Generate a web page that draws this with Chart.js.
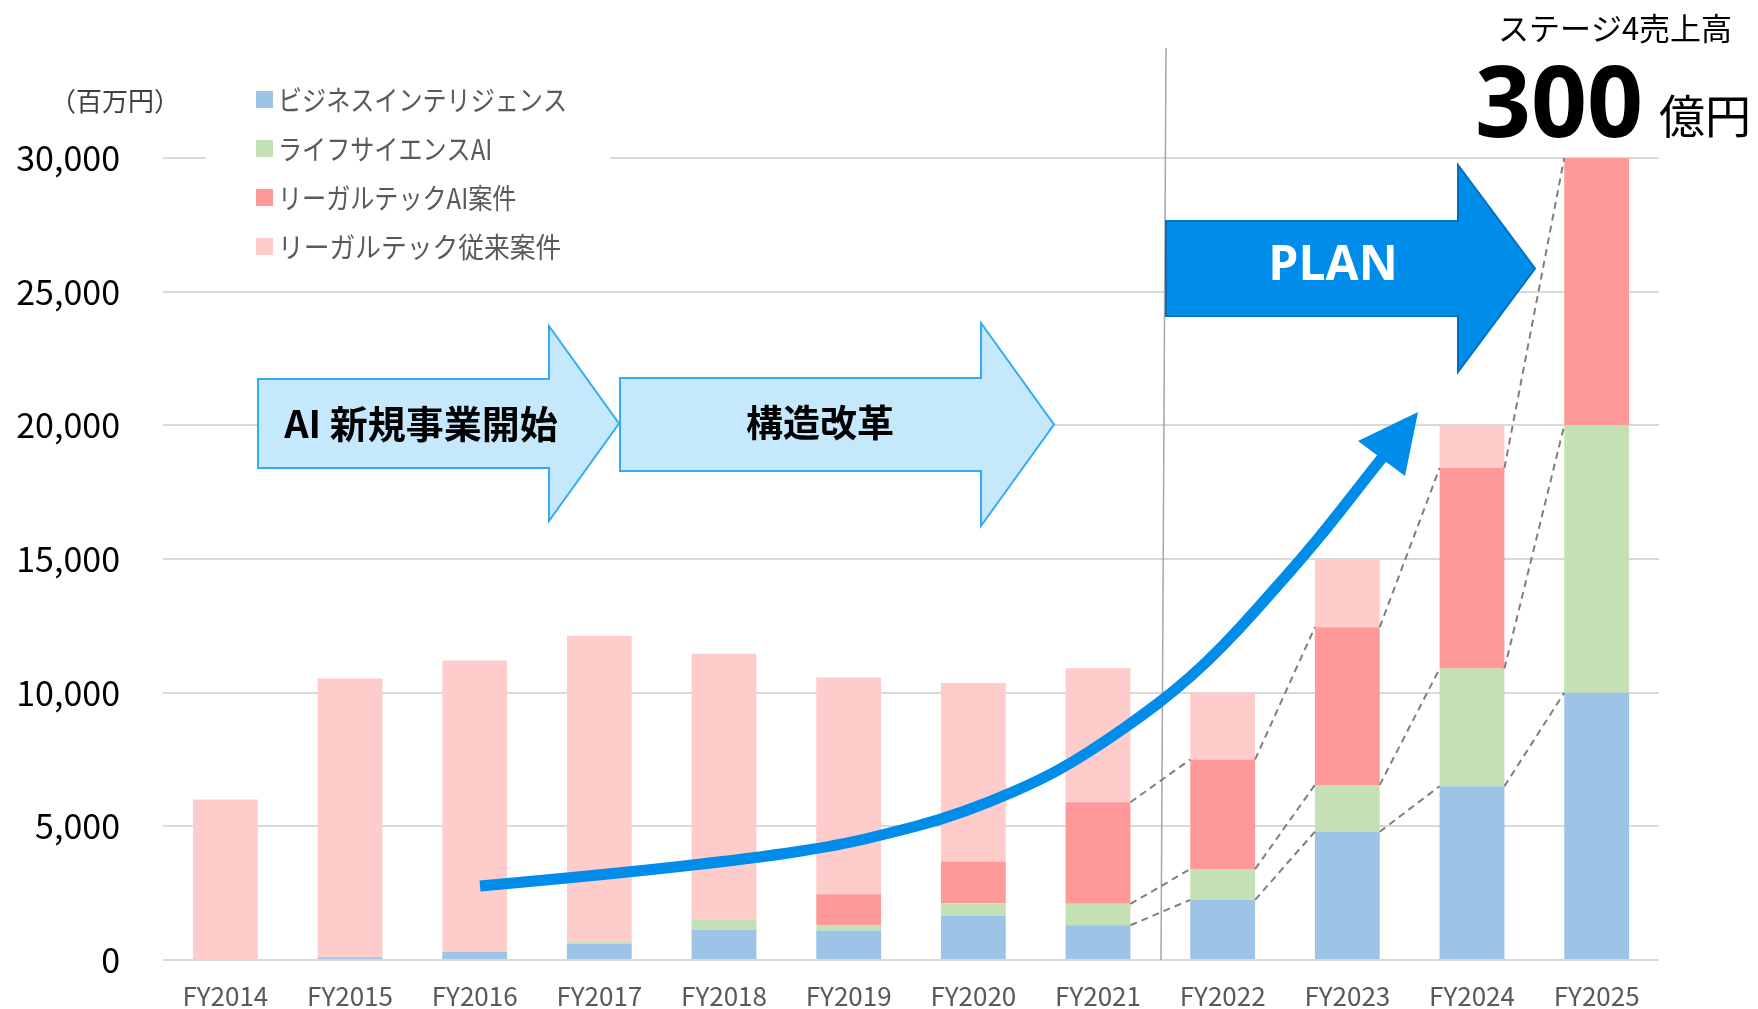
<!DOCTYPE html>
<html lang="ja">
<head>
<meta charset="utf-8">
<script src="https://cdn.jsdelivr.net/npm/chart.js@4"></script>
<style>
html, body { margin: 0; padding: 0; background: #fff; }
canvas { display: block; }
</style>
</head>
<body>
<canvas id="chart" width="1758" height="1009"></canvas>
<script>
const categories = ['FY2014','FY2015','FY2016','FY2017','FY2018','FY2019','FY2020','FY2021','FY2022','FY2023','FY2024','FY2025'];
const seriesNames = ['ビジネスインテリジェンス','ライフサイエンスAI','リーガルテックAI案件','リーガルテック従来案件'];
const biValues          = [0, 100, 300, 600, 1130, 1100, 1650, 1300, 2250, 4800, 6500, 10000];
const lifeScienceValues = [0, 0, 0, 70, 380, 190, 470, 800, 1150, 1750, 4400, 10000];
const legalAiValues     = [0, 0, 0, 0, 0, 1170, 1560, 3800, 4100, 5900, 7500, 10000];
const legalLegacyValues = [6000, 10430, 10900, 11460, 9950, 8110, 6680, 5010, 2500, 2550, 1600, 0];
const seriesColors = ['#9dc3e6','#c5e0b4','#ff9999','#ffcccc'];
const yMax = 30000, yStep = 5000;
const seriesLineFrom = 7;   // dashed "series lines" start at FY2021
const unitLabel = '（百万円）';
const titleLabel = 'ステージ4売上高';
const bigNumber = '300', bigUnit = '億円';
const phaseLabels = ['AI 新規事業開始', '構造改革', 'PLAN'];

const jp = '"Noto Sans CJK JP", "Noto Sans", sans-serif';

// hand-traced path of the decorative growth arrow (canvas px)
const growthPath = [[480,886],[603,875],[756,858],[840,845],[890,833],[940,820],[990,802],
                    [1040,780],[1073,762],[1107,740],[1140,717],[1173,692],[1207,662],[1240,628],
                    [1272,592],[1302,558],[1331,523],[1370,473],[1382,458]];

// the original uses a narrow UI font; squeeze the text a bit
function narrowText(ctx, text, x, y, squeeze) {
  ctx.fillText(text, x, y, ctx.measureText(text).width * squeeze);
}

function blockArrow(ctx, a, fill, stroke) {
  const midY = (a.headTop + a.headBottom) / 2;
  ctx.beginPath();
  ctx.moveTo(a.left, a.top);
  ctx.lineTo(a.headX, a.top);
  ctx.lineTo(a.headX, a.headTop);
  ctx.lineTo(a.tipX, midY);
  ctx.lineTo(a.headX, a.headBottom);
  ctx.lineTo(a.headX, a.bottom);
  ctx.lineTo(a.left, a.bottom);
  ctx.closePath();
  ctx.fillStyle = fill;
  ctx.fill();
  ctx.lineWidth = 2;
  ctx.strokeStyle = stroke;
  ctx.stroke();
}

const dividerPlugin = {
  id: 'divider',
  beforeDatasetsDraw(chart) {
    const ctx = chart.ctx;
    ctx.save();
    ctx.strokeStyle = '#a6a6a6';
    ctx.lineWidth = 1.5;
    ctx.beginPath();
    ctx.moveTo(1166, 48);
    ctx.lineTo(1161, chart.chartArea.bottom);
    ctx.stroke();
    ctx.restore();
  }
};

const seriesLinesPlugin = {
  id: 'seriesLines',
  afterDatasetsDraw(chart) {
    const ctx = chart.ctx;
    ctx.save();
    ctx.strokeStyle = '#7f7f7f';
    ctx.lineWidth = 2;
    ctx.setLineDash([7, 5]);
    for (let k = 0; k < 3; k++) {
      const bars = chart.getDatasetMeta(k).data;
      for (let i = seriesLineFrom; i < bars.length - 1; i++) {
        const a = bars[i], b = bars[i + 1];
        ctx.beginPath();
        ctx.moveTo(a.x + a.width / 2, a.y);
        ctx.lineTo(b.x - b.width / 2, b.y);
        ctx.stroke();
      }
    }
    ctx.restore();
  }
};

const decorPlugin = {
  id: 'decor',
  afterDraw(chart) {
    const ctx = chart.ctx;
    ctx.save();

    // legend box (white, hides the top gridline behind it)
    ctx.fillStyle = '#fff';
    ctx.fillRect(206, 72, 404, 195);
    ctx.textBaseline = 'middle';
    ctx.textAlign = 'left';
    ctx.font = '28px ' + jp;
    chart.data.datasets.forEach((ds, i) => {
      const y = 99 + i * 49;
      ctx.fillStyle = ds.backgroundColor;
      ctx.fillRect(256, y - 8, 17, 17);
      ctx.fillStyle = '#595959';
      narrowText(ctx, ds.label, 278, y + 1, i === 3 ? 0.92 : 0.86);
    });

    ctx.fillStyle = '#404040';
    ctx.font = '26px ' + jp;
    ctx.fillText(unitLabel, 50, 101);

    // headline
    ctx.fillStyle = '#000';
    ctx.textAlign = 'center';
    ctx.font = '31px ' + jp;
    ctx.fillText(titleLabel, 1615, 28);
    ctx.textBaseline = 'alphabetic';
    ctx.textAlign = 'left';
    ctx.font = 'bold 98px "Open Sans", "Noto Sans", sans-serif';
    ctx.fillText(bigNumber, 1475, 137);
    ctx.font = '46px ' + jp;
    ctx.fillText(bigUnit, 1659, 133);

    // phase arrows
    blockArrow(ctx, {left: 258, top: 379, bottom: 468, headX: 549, headTop: 326, headBottom: 521, tipX: 619}, '#c6e8fc', '#33aaf5');
    blockArrow(ctx, {left: 620, top: 378, bottom: 471, headX: 981, headTop: 323, headBottom: 526, tipX: 1054}, '#c6e8fc', '#33aaf5');
    blockArrow(ctx, {left: 1166, top: 221, bottom: 316, headX: 1458, headTop: 165, headBottom: 372, tipX: 1535}, '#008ce9', '#0070c0');
    ctx.textAlign = 'center';
    ctx.textBaseline = 'middle';
    ctx.fillStyle = '#000';
    ctx.font = 'bold 38px ' + jp;
    ctx.fillText(phaseLabels[0], 421, 424);
    ctx.font = 'bold 37px ' + jp;
    ctx.fillText(phaseLabels[1], 820, 423);
    ctx.fillStyle = '#fff';
    ctx.font = 'bold 48px "Open Sans", "Noto Sans", sans-serif';
    ctx.fillText(phaseLabels[2], 1333, 266);

    // growth curve, smoothed through the traced points
    ctx.strokeStyle = '#008ce9';
    ctx.lineWidth = 11;
    ctx.beginPath();
    ctx.moveTo(growthPath[0][0], growthPath[0][1]);
    for (let i = 1; i < growthPath.length - 1; i++) {
      const [x, y] = growthPath[i];
      const [nx, ny] = growthPath[i + 1];
      ctx.quadraticCurveTo(x, y, (x + nx) / 2, (y + ny) / 2);
    }
    const last = growthPath[growthPath.length - 1];
    ctx.lineTo(last[0], last[1]);
    ctx.stroke();
    ctx.fillStyle = '#008ce9';
    ctx.beginPath();
    ctx.moveTo(1418, 412);
    ctx.lineTo(1358, 441);
    ctx.lineTo(1405, 476);
    ctx.closePath();
    ctx.fill();

    ctx.restore();
  }
};

new Chart(document.getElementById('chart'), {
  type: 'bar',
  data: {
    labels: categories,
    datasets: [
      {label: seriesNames[0], data: biValues,          backgroundColor: seriesColors[0]},
      {label: seriesNames[1], data: lifeScienceValues, backgroundColor: seriesColors[1]},
      {label: seriesNames[2], data: legalAiValues,     backgroundColor: seriesColors[2]},
      {label: seriesNames[3], data: legalLegacyValues, backgroundColor: seriesColors[3]}
    ]
  },
  options: {
    responsive: false,
    animation: false,
    devicePixelRatio: 1,
    barPercentage: 0.52,
    categoryPercentage: 1,
    layout: {padding: {left: 0, top: 158, right: 99, bottom: 0}},
    plugins: {
      legend: {display: false},
      tooltip: {enabled: false}
    },
    scales: {
      x: {
        stacked: true,
        grid: {display: false},
        border: {display: false},
        ticks: {color: '#595959', font: {family: jp, size: 26}, padding: 13},
        afterFit: s => { s.height = 49; }
      },
      y: {
        stacked: true,
        min: 0,
        max: yMax,
        grid: {color: '#d9d9d9', lineWidth: 2, drawTicks: false},
        border: {display: false},
        ticks: {
          stepSize: yStep,
          color: '#000',
          padding: 43,
          font: {family: jp, size: 34},
          callback: v => v.toLocaleString('en-US')
        },
        afterFit: s => {
          s.width = 163;
          s.paddingTop = 0;
          s.paddingBottom = 0;
        }
      }
    }
  },
  plugins: [dividerPlugin, seriesLinesPlugin, decorPlugin]
});
</script>
</body>
</html>
